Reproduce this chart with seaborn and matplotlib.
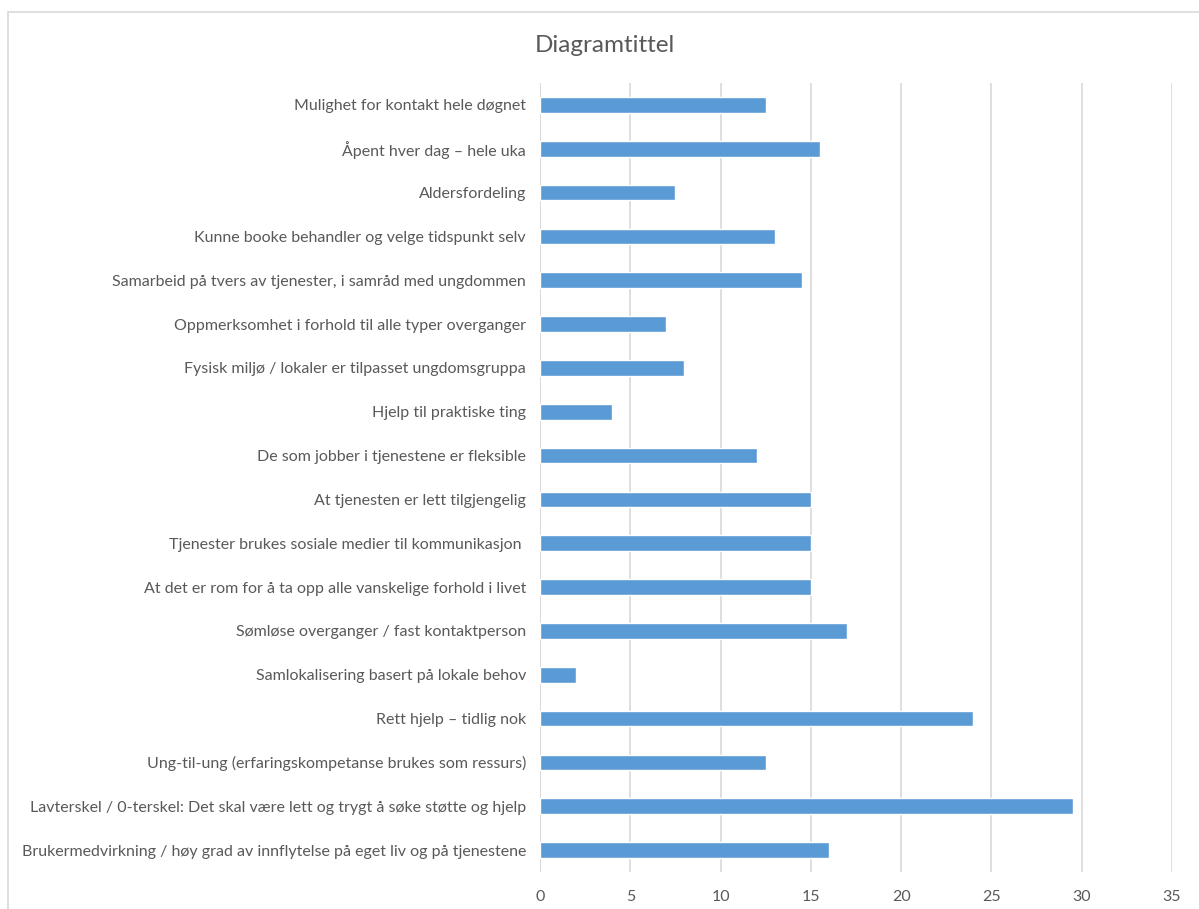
import matplotlib
matplotlib.use("Agg")
import matplotlib.pyplot as plt
import seaborn as sns
import pandas as pd
from matplotlib.patches import Rectangle

# Kategorier (ovenfra og ned) og verdier
kategorier = [
    "Mulighet for kontakt hele døgnet",
    "Åpent hver dag – hele uka",
    "Aldersfordeling",
    "Kunne booke behandler og velge tidspunkt selv",
    "Samarbeid på tvers av tjenester, i samråd med ungdommen",
    "Oppmerksomhet i forhold til alle typer overganger",
    "Fysisk miljø / lokaler er tilpasset ungdomsgruppa",
    "Hjelp til praktiske ting",
    "De som jobber i tjenestene er fleksible",
    "At tjenesten er lett tilgjengelig",
    "Tjenester brukes sosiale medier til kommunikasjon ",
    "At det er rom for å ta opp alle vanskelige forhold i livet",
    "Sømløse overganger / fast kontaktperson",
    "Samlokalisering basert på lokale behov",
    "Rett hjelp – tidlig nok",
    "Ung-til-ung (erfaringskompetanse brukes som ressurs)",
    "Lavterskel / 0-terskel: Det skal være lett og trygt å søke støtte og hjelp",
    "Brukermedvirkning / høy grad av innflytelse på eget liv og på tjenestene",
]
verdier = [12.5, 15.5, 7.5, 13, 14.5, 7, 8, 4, 12, 15, 15, 15, 17, 2, 24, 12.5, 29.5, 16]
x_ticks = [0, 5, 10, 15, 20, 25, 30, 35]

df = pd.DataFrame({"kategori": kategorier, "verdi": verdier})

sns.set_style("white")
plt.rcParams["font.family"] = ["Lato", "DejaVu Sans"]

tekst = "#595959"
fig = plt.figure(figsize=(11.99, 9.09), dpi=100)
ax = fig.add_axes([540 / 1199, 1 - 872 / 909, (1172 - 540) / 1199, (872 - 83) / 909])

sns.barplot(data=df, x="verdi", y="kategori", color="#5B9BD5", width=0.36,
            saturation=1, ax=ax, zorder=3)

ax.set_xlim(0, 35)
ax.set_xticks(x_ticks)
ax.set_xticklabels([str(t) for t in x_ticks])
ax.grid(axis="x", color="#D9D9D9", linewidth=1.2, zorder=0)
ax.set_axisbelow(True)
for s in ax.spines.values():
    s.set_visible(False)
ax.axvline(0, color="#D9D9D9", linewidth=1.2, zorder=1)
ax.tick_params(axis="both", length=0, labelsize=11.5, colors=tekst)
ax.tick_params(axis="x", pad=13)
ax.tick_params(axis="y", pad=10)
ax.set_xlabel("")
ax.set_ylabel("")

fig.text(0.5046, 1 - 46 / 909, "Diagramtittel", ha="center", va="center",
         fontsize=17.5, color=tekst)

# diagramramme
fig.patches.append(Rectangle((8 / 1199, -0.1), 1.2, 1 - 12 / 909 + 0.1,
                             transform=fig.transFigure, fill=False,
                             edgecolor="#D9D9D9", linewidth=1.2))

fig.savefig("out.png", dpi=100, facecolor="white")
